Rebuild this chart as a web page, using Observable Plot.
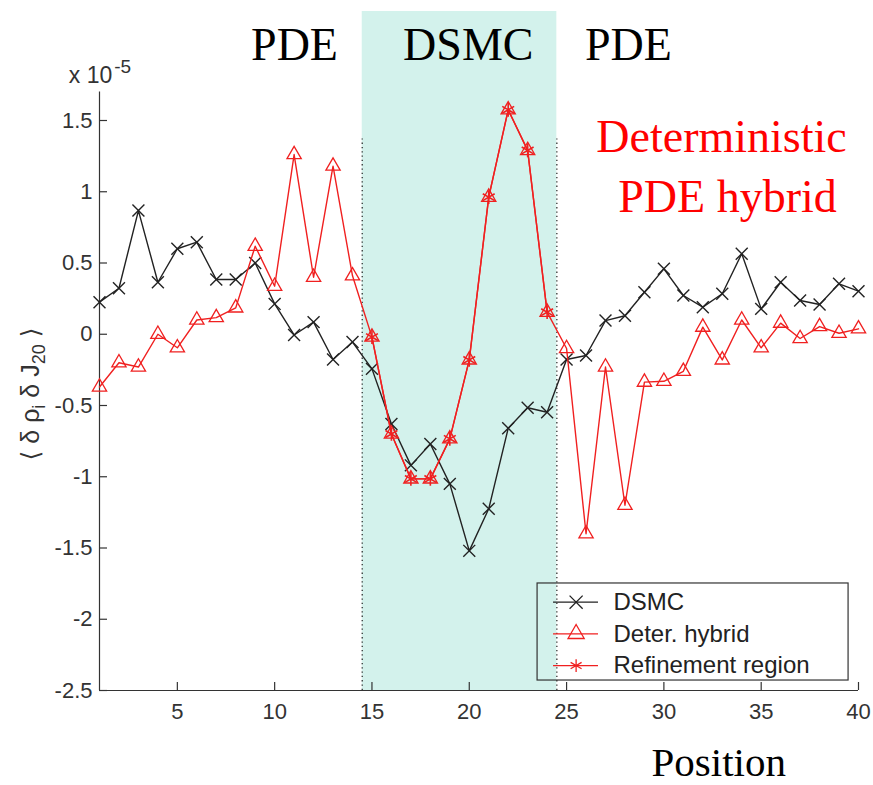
<!DOCTYPE html>
<html>
<head>
<meta charset="utf-8">
<script src="https://cdn.jsdelivr.net/npm/d3@7"></script>
<script src="https://cdn.jsdelivr.net/npm/@observablehq/plot@0.6"></script>
<style>
html, body { margin: 0; padding: 0; background: #fff; overflow: hidden; }
#chart svg { display: block; }
</style>
</head>
<body>
<div id="chart"></div>
<script>
// ---- data ----
const positions = [1,2,3,4,5,6,7,8,9,10,11,12,13,14,15,16,17,18,19,20,
                   21,22,23,24,25,26,27,28,29,30,31,32,33,34,35,36,37,38,39,40];
const dsmc = [0.225,0.323,0.868,0.365,0.600,0.646,0.384,0.384,0.500,0.213,
              -0.005,0.085,-0.177,-0.055,-0.243,-0.630,-0.920,-0.770,-1.050,-1.520,
              -1.225,-0.660,-0.516,-0.547,-0.177,-0.149,0.096,0.130,0.295,0.459,
              0.272,0.190,0.284,0.565,0.178,0.365,0.237,0.209,0.354,0.302];
const deterHybrid = [-0.370,-0.200,-0.230,0.000,-0.095,0.100,0.117,0.185,0.618,0.337,
                     1.261,0.400,1.180,0.410,-0.020,-0.700,-1.015,-1.015,-0.734,-0.180,
                     0.962,1.575,1.290,0.155,-0.100,-1.400,-0.230,-1.200,-0.336,-0.330,
                     -0.260,0.050,-0.180,0.100,-0.095,0.078,-0.030,0.054,0.007,0.038];
const refinementPositions = [15,16,17,18,19,20,21,22,23,24];
const refinementValues = [-0.020,-0.700,-1.015,-1.015,-0.734,-0.180,0.962,1.575,1.290,0.155];
const dsmcRegionBounds = [14.5, 24.5];
const yTicks = [-2.5,-2,-1.5,-1,-0.5,0,0.5,1,1.5];
const xTicks = [5,10,15,20,25,30,35,40];
const regionNames = ["PDE","DSMC","PDE"];
const legendLabels = ["DSMC","Deter. hybrid","Refinement region"];
const annotationLines = ["Deterministic","PDE hybrid"];
const xLabel = "Position";

// ---- build tables ----
const dsmcData = positions.map((x, i) => ({x, y: dsmc[i]}));
const deterData = positions.map((x, i) => ({x, y: deterHybrid[i]}));
const refData = refinementPositions.map((x, i) => ({x, y: refinementValues[i]}));

const BLACK = "#222";
const RED = "#f02020";
const SANS = "Liberation Sans, Arial, Helvetica, sans-serif";
const SERIF = "Liberation Serif, Times New Roman, serif";

const regionTitleX = [11.02, 19.95, 28.18];
const regionTitles = regionNames.map((t, i) => ({t, x: regionTitleX[i]}));
const redAnno = annotationLines.map((t, i) => ({t, x: i === 0 ? 32.96 : 33.27, y: i === 0 ? 1.278 : 0.857}));
const legendRows = legendLabels.map((t, i) => ({
  t, y: -1.88 - i * 0.2225,
  sym: ["times","triangle","asterisk"][i],
  c: i === 0 ? BLACK : RED
}));

const plot = Plot.plot({
  width: 873,
  height: 785,
  marginLeft: 99,
  marginRight: 15,
  marginTop: 91.5,
  marginBottom: 95,
  style: {background: "#fff", fontFamily: SANS, fontSize: "22px", color: "#222"},
  x: {domain: [1, 40]},
  y: {domain: [-2.5, 1.7]},
  marks: [
    // shaded DSMC region (extends above frame up to titles)
    Plot.rect([dsmcRegionBounds], {x1: d => d[0], x2: d => d[1], y1: -2.5, y2: 2.265, fill: "#d3f2ec"}),
    Plot.ruleX(dsmcRegionBounds, {x: d => d, y1: -2.5, y2: 1.37, stroke: "#333", strokeWidth: 1.3, strokeDasharray: "1.3,3"}),
    // axes lines and inward ticks
    Plot.ruleX([1], {y1: -2.5, y2: 1.7, stroke: "#333", strokeWidth: 1.2}),
    Plot.ruleY([-2.5], {x1: 1, x2: 40, stroke: "#333", strokeWidth: 1.2}),
    Plot.tickY(yTicks, {y: d => d, insetRight: 751, stroke: "#333", strokeWidth: 1.2}),
    Plot.tickX(xTicks, {x: d => d, insetTop: 590.5, stroke: "#333", strokeWidth: 1.2}),
    Plot.axisY(yTicks, {tickSize: 0, tickPadding: 7, tickFormat: d => String(d), fontSize: 22, fill: "#333", label: null}),
    Plot.axisX(xTicks, {tickSize: 0, tickPadding: 13, tickFormat: d => String(d), fontSize: 22, fill: "#333", label: null}),
    // series
    Plot.line(dsmcData, {x: "x", y: "y", stroke: BLACK, strokeWidth: 1.4}),
    Plot.dot(dsmcData, {x: "x", y: "y", symbol: "times", r: 5.5, stroke: BLACK, strokeWidth: 1.4}),
    Plot.line(deterData, {x: "x", y: "y", stroke: RED, strokeWidth: 1.4}),
    Plot.dot(deterData, {x: "x", y: "y", symbol: "triangle", r: 5.3, stroke: RED, fill: "none", strokeWidth: 1.3}),
    Plot.line(refData, {x: "x", y: "y", stroke: RED, strokeWidth: 1.4}),
    Plot.dot(refData, {x: "x", y: "y", symbol: "asterisk", r: 6.5, stroke: RED, strokeWidth: 1.6}),
    // titles
    Plot.text(regionTitles, {x: "x", y: 1.928, text: "t", fontFamily: SERIF, fontSize: 46, fill: "#000", lineAnchor: "bottom"}),
    Plot.text(redAnno, {x: "x", y: "y", text: "t", fontFamily: SERIF, fontSize: 46, fill: "#ff0000", lineAnchor: "bottom"}),
    Plot.text([xLabel], {x: 32.82, y: -3.1, text: d => d, fontFamily: SERIF, fontSize: 41, fill: "#000", lineAnchor: "bottom"}),
    // legend
    Plot.rect([0], {x1: 23.51, x2: 39.49, y1: -2.43, y2: -1.749, fill: "none", stroke: "#333", strokeWidth: 1.2}),
    Plot.ruleY(legendRows, {y: "y", x1: 24.33, x2: 26.64, stroke: "c", strokeWidth: 1.3}),
    Plot.dot(legendRows, {x: 25.49, y: "y", symbol: "sym", r: 6, stroke: "c", fill: "none", strokeWidth: 1.3}),
    Plot.text(legendRows, {x: 27.41, y: "y", text: "t", textAnchor: "start", fontSize: 24, fill: "#222"})
  ]
});

document.getElementById("chart").appendChild(plot);

// y-axis label with subscripts and the exponent note
const svg = d3.select(plot);
const ylab = svg.append("text")
  .attr("transform", "translate(39,394) rotate(-90)")
  .attr("text-anchor", "middle")
  .attr("font-family", SANS + ", DejaVu Sans")
  .attr("font-size", 25)
  .attr("fill", "#333");
ylab.append("tspan").text("\u27E8 \u03B4 \u03C1");
ylab.append("tspan").attr("dy", 6).attr("font-size", 18).text("i");
ylab.append("tspan").attr("dy", -6).text(" \u03B4 J");
ylab.append("tspan").attr("dy", 6).attr("font-size", 18).text("20");
ylab.append("tspan").attr("dy", -6).text(" \u27E9");

const expo = svg.append("text")
  .attr("x", 100).attr("y", 83)
  .attr("font-family", SANS)
  .attr("font-size", 23)
  .attr("fill", "#333");
expo.append("tspan").text("x 10");
expo.append("tspan").attr("dy", -10).attr("dx", 2).attr("font-size", 19).text("-5");
</script>
</body>
</html>
